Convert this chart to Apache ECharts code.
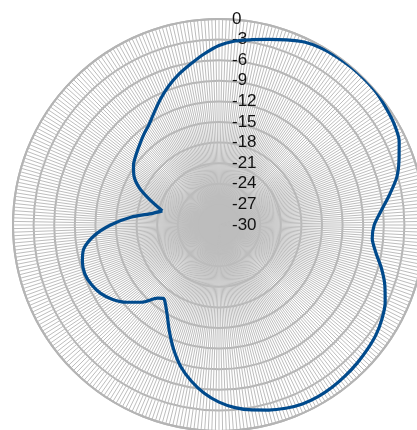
<!DOCTYPE html>
<html>
<head>
<meta charset="utf-8">
<script src="https://cdn.jsdelivr.net/npm/echarts@6/dist/echarts.min.js"></script>
<style>
html,body{margin:0;padding:0;background:#fff;}
#c{width:417px;height:430px;}
</style>
</head>
<body>
<div id="c"></div>
<script>
// Angles in degrees (clockwise from top) and gain in dB; the list starts at the sharp null near 284 deg
const angles = [284,290,295,300,305,310,315,320,325,330,335,340,345,350,355,0,5,10,15,20,25,30,35,40,45,50,55,60,65,70,75,80,85,90,95,100,105,110,115,120,125,130,135,140,145,150,155,160,165,170,175,180,185,190,195,200,205,210,215,217,220,225,230,235,240,245,250,255,260,265,270,275,280,284];
const gain = [-21.5,-19.3,-17.2,-15.7,-14.8,-14.2,-13.6,-12.9,-12.2,-11.1,-9.8,-8.5,-7.3,-6.2,-5.0,-3.85,-3.1,-2.6,-2.0,-1.3,-0.6,-0.25,-0.1,-0.02,0,-0.05,-0.3,-0.55,-1.05,-2.1,-3.2,-4.8,-6.3,-7.4,-7.6,-6.8,-5.5,-4.3,-3.3,-2.6,-2.1,-1.8,-1.55,-1.35,-1.2,-1.15,-1.25,-1.6,-2.1,-2.65,-3.3,-4.2,-5.4,-6.9,-8.6,-10.7,-12.9,-14.9,-16.3,-16.6,-16.1,-14.1,-12.5,-11.1,-10.1,-9.5,-9.2,-9.4,-10.0,-11.7,-14.2,-17.1,-20.2,-21.5];
const radiusTicks = {min: -30, max: 0, step: 3};

const chart = echarts.init(document.getElementById('c'), null, {renderer: 'canvas'});
chart.setOption({
  animation: false,
  backgroundColor: '#ffffff',
  polar: {center: [219, 225], radius: 206},
  angleAxis: {
    type: 'value', min: 0, max: 360, interval: 1, startAngle: 90, clockwise: true,
    axisLine: {show: true, lineStyle: {color: '#b4b4b4', width: 2}},
    axisTick: {show: false},
    axisLabel: {show: false},
    splitLine: {show: true, lineStyle: {color: '#bdbdbd', width: 1}}
  },
  radiusAxis: {
    type: 'value', min: radiusTicks.min, max: radiusTicks.max, interval: radiusTicks.step,
    axisLine: {show: false},
    axisTick: {show: false},
    axisLabel: {show: true, color: '#111', fontSize: 17, align: 'left', margin: -13,
      fontFamily: 'Liberation Sans, Arial, sans-serif'},
    splitLine: {show: true, lineStyle: {color: '#b4b4b4', width: 2}}
  },
  series: [{
    type: 'line',
    coordinateSystem: 'polar',
    data: angles.map((a, i) => [gain[i], a]),
    showSymbol: false,
    smooth: 0.25,
    lineStyle: {color: '#004a8c', width: 3.2},
    z: 20
  }]
});
</script>
</body>
</html>
